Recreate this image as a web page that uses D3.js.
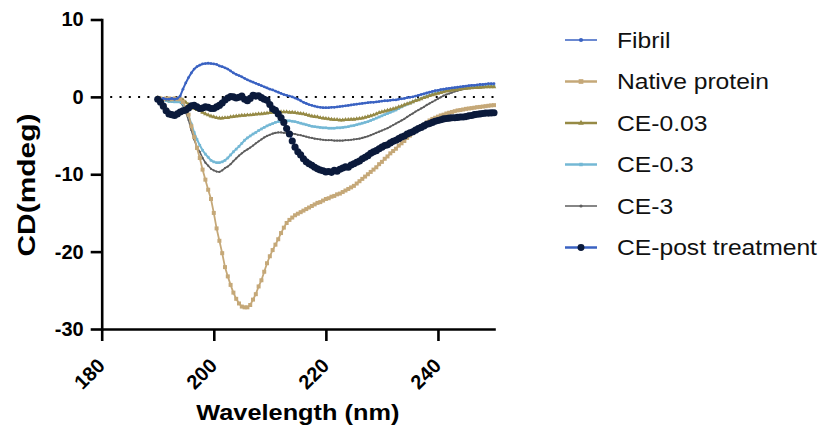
<!DOCTYPE html>
<html>
<head>
<meta charset="utf-8">
<script src="https://cdn.jsdelivr.net/npm/d3@7"></script>
<style>
  body { margin: 0; background: #fff; }
  svg { display: block; font-family: "Liberation Sans", Arial, sans-serif; }
</style>
</head>
<body>
<div class="canvas"></div>
<script>
// margins and dimensions
const w = 828;
const h = 431;

// wavelength grid (nm), one reading every 0.5 nm from 190 to 250
const wavelengths = d3.range(190, 250.01, 0.5);

// CD readings (mdeg), rows of 5 nm
const fibril = [
  -0.2, -0.3, -0.2, -0.3, -0.3, -0.2, -0.3, -0.2, 0.1, 1.0,
  1.8, 2.5, 3.1, 3.6, 3.9, 4.1, 4.25, 4.3, 4.35, 4.3,
  4.25, 4.2, 4.0, 3.9, 3.75, 3.6, 3.35, 3.1, 2.9, 2.75,
  2.6, 2.4, 2.2, 2.05, 1.9, 1.75, 1.6, 1.45, 1.3, 1.15,
  1.0, 0.9, 0.75, 0.6, 0.45, 0.3, 0.2, 0.1, 0.0, -0.15,
  -0.3, -0.5, -0.7, -0.85, -1.0, -1.1, -1.2, -1.3, -1.35, -1.4,
  -1.4, -1.4, -1.35, -1.35, -1.3, -1.25, -1.2, -1.15, -1.1, -1.05,
  -1.0, -0.95, -0.9, -0.85, -0.8, -0.75, -0.7, -0.7, -0.65, -0.6,
  -0.55, -0.5, -0.5, -0.45, -0.4, -0.4, -0.3, -0.25, -0.2, -0.1,
  -0.05, 0.0, 0.1, 0.2, 0.3, 0.4, 0.5, 0.6, 0.7, 0.8,
  0.85, 0.95, 1.0, 1.05, 1.1, 1.15, 1.2, 1.25, 1.3, 1.35,
  1.4, 1.45, 1.5, 1.5, 1.55, 1.6, 1.6, 1.65, 1.7, 1.7,
  1.7
];

const nativeProtein = [
  -0.3, -0.2, -0.3, -0.2, -0.2, -0.3, -0.2, -0.3, -0.3, -0.65,
  -1.4, -2.3, -3.8, -5.2, -6.6, -7.9, -9.4, -10.7, -12.0, -13.2,
  -15.0, -17.0, -18.6, -20.2, -22.0, -23.2, -24.3, -25.3, -26.1, -26.7,
  -27.1, -27.2, -27.2, -26.9, -26.2, -25.5, -24.5, -23.7, -22.6, -21.5,
  -20.6, -19.8, -19.1, -18.4, -17.6, -16.9, -16.3, -15.9, -15.6, -15.3,
  -15.1, -14.9, -14.7, -14.5, -14.3, -14.1, -13.9, -13.7, -13.6, -13.4,
  -13.2, -13.1, -12.9, -12.8, -12.6, -12.5, -12.3, -12.1, -11.9, -11.7,
  -11.5, -11.2, -10.9, -10.6, -10.3, -10.0, -9.7, -9.4, -9.1, -8.7,
  -8.4, -8.0, -7.7, -7.3, -7.0, -6.7, -6.3, -6.0, -5.7, -5.3,
  -5.0, -4.7, -4.4, -4.1, -3.8, -3.6, -3.3, -3.05, -2.85, -2.7,
  -2.55, -2.4, -2.3, -2.15, -2.05, -1.95, -1.85, -1.75, -1.7, -1.63,
  -1.55, -1.5, -1.45, -1.4, -1.33, -1.3, -1.25, -1.2, -1.15, -1.1,
  -1.07
];

const ce003 = [
  -0.1, -0.2, -0.3, -0.3, -0.4, -0.3, -0.3, -0.25, -0.2, -0.4,
  -0.7, -1.0, -1.3, -1.5, -1.65, -1.8, -2.0, -2.2, -2.35, -2.5,
  -2.6, -2.7, -2.75, -2.75, -2.7, -2.7, -2.6, -2.55, -2.5, -2.45,
  -2.4, -2.4, -2.35, -2.35, -2.3, -2.25, -2.2, -2.2, -2.15, -2.1,
  -2.05, -2.0, -2.0, -1.95, -1.95, -1.95, -1.95, -2.0, -2.0, -2.05,
  -2.1, -2.15, -2.2, -2.3, -2.4, -2.5, -2.55, -2.6, -2.7, -2.75,
  -2.8, -2.85, -2.9, -2.95, -2.95, -3.0, -3.0, -2.95, -2.95, -2.9,
  -2.9, -2.85, -2.8, -2.75, -2.65, -2.55, -2.45, -2.35, -2.2, -2.05,
  -1.95, -1.85, -1.75, -1.65, -1.55, -1.45, -1.3, -1.2, -1.05, -0.9,
  -0.8, -0.65, -0.5, -0.4, -0.25, -0.1, 0.0, 0.15, 0.25, 0.35,
  0.45, 0.55, 0.65, 0.75, 0.8, 0.85, 0.9, 0.95, 1.0, 1.05,
  1.1, 1.12, 1.15, 1.18, 1.2, 1.22, 1.25, 1.27, 1.3, 1.3,
  1.3
];

const ce03 = [
  -0.2, -0.3, -0.4, -0.5, -0.6, -0.6, -0.65, -0.65, -0.65, -0.9,
  -1.5, -2.4, -3.5, -4.6, -5.5, -6.25, -6.9, -7.4, -7.8, -8.2,
  -8.4, -8.5, -8.5, -8.4, -8.2, -7.9, -7.5, -7.1, -6.75, -6.4,
  -6.0, -5.6, -5.3, -5.05, -4.8, -4.6, -4.35, -4.15, -3.95, -3.75,
  -3.6, -3.45, -3.3, -3.2, -3.15, -3.1, -3.1, -3.1, -3.15, -3.2,
  -3.3, -3.4, -3.5, -3.6, -3.7, -3.8, -3.85, -3.9, -3.95, -4.0,
  -4.0, -4.05, -4.05, -4.05, -4.0, -4.0, -3.95, -3.9, -3.85, -3.75,
  -3.7, -3.6, -3.5, -3.4, -3.3, -3.2, -3.05, -2.9, -2.75, -2.6,
  -2.45, -2.3, -2.15, -2.0, -1.85, -1.7, -1.5, -1.3, -1.1, -0.95,
  -0.8, -0.65, -0.5, -0.35, -0.2, -0.05, 0.1, 0.2, 0.35, 0.45,
  0.55, 0.65, 0.75, 0.85, 0.9, 0.95, 1.0, 1.05, 1.1, 1.15,
  1.2, 1.22, 1.25, 1.28, 1.3, 1.32, 1.35, 1.37, 1.38, 1.4,
  1.4
];

const ce3 = [
  -0.2, -0.3, -0.4, -0.5, -0.6, -0.6, -0.65, -0.65, -0.7, -1.1,
  -2.0, -3.0, -4.3, -5.5, -6.5, -7.1, -7.9, -8.5, -8.9, -9.3,
  -9.5, -9.65, -9.7, -9.5, -9.2, -9.0, -8.7, -8.3, -7.95, -7.6,
  -7.3, -7.0, -6.8, -6.55, -6.3, -6.0, -5.75, -5.5, -5.25, -5.05,
  -4.9, -4.75, -4.65, -4.6, -4.6, -4.65, -4.65, -4.7, -4.75, -4.8,
  -4.9, -4.95, -5.05, -5.15, -5.25, -5.3, -5.4, -5.45, -5.5, -5.55,
  -5.6, -5.6, -5.6, -5.65, -5.65, -5.65, -5.65, -5.6, -5.6, -5.55,
  -5.5, -5.45, -5.4, -5.3, -5.2, -5.1, -4.95, -4.8, -4.65, -4.5,
  -4.35, -4.2, -4.05, -3.85, -3.65, -3.45, -3.25, -3.05, -2.85, -2.6,
  -2.35, -2.15, -1.9, -1.7, -1.5, -1.3, -1.05, -0.85, -0.65, -0.45,
  -0.25, -0.05, 0.15, 0.3, 0.43, 0.55, 0.7, 0.8, 0.9, 1.0,
  1.08, 1.12, 1.15, 1.18, 1.2, 1.22, 1.25, 1.27, 1.28, 1.3,
  1.3
];

const cePost = [
  -0.3, -0.7, -1.2, -1.8, -2.2, -2.3, -2.4, -2.2, -1.95, -1.8,
  -1.7, -1.45, -1.15, -1.1, -1.3, -1.5, -1.45, -1.3, -1.35, -1.5,
  -1.5, -1.3, -1.1, -0.8, -0.4, -0.15, 0.05, 0.0, -0.15, -0.05,
  0.1, -0.3, -0.5, -0.2, 0.2, 0.1, 0.15, -0.1, -0.3, -0.45,
  -1.0, -1.55, -1.75, -2.2, -2.7, -3.3, -4.1, -4.8, -5.7, -6.5,
  -7.1, -7.5, -8.0, -8.4, -8.65, -8.85, -9.1, -9.3, -9.45, -9.55,
  -9.7, -9.65, -9.75, -9.5, -9.6, -9.35, -9.2, -9.05, -9.1, -8.8,
  -8.65, -8.45, -8.3, -8.0, -7.8, -7.6, -7.3, -7.1, -6.95, -6.7,
  -6.5, -6.3, -6.2, -5.95, -5.75, -5.6, -5.4, -5.2, -5.05, -4.8,
  -4.65, -4.5, -4.3, -4.1, -3.95, -3.75, -3.55, -3.45, -3.3, -3.15,
  -3.05, -2.95, -2.85, -2.8, -2.75, -2.7, -2.7, -2.65, -2.6, -2.6,
  -2.55, -2.45, -2.4, -2.3, -2.25, -2.2, -2.15, -2.1, -2.1, -2.07,
  -2.05
];

// axis ticks
const xTicks = [180, 200, 220, 240];
const yTicks = [-30, -20, -10, 0, 10];

// series styling, legend order
const series = [
  { name: "Fibril", values: fibril, line: "#3a62c2", fill: "#3a62c2", stroke: 2, symbol: d3.symbolCircle, size: 6, legendSize: 14, legendStroke: 1.5 },
  { name: "Native protein", values: nativeProtein, line: "#c5a878", fill: "#c5a878", stroke: 1.8, symbol: d3.symbolSquare, size: 16, legendSize: 22, legendStroke: 2.5 },
  { name: "CE-0.03", values: ce003, line: "#968a45", fill: "#968a45", stroke: 2, symbol: d3.symbolTriangle, size: 9, legendSize: 14, legendStroke: 2.5 },
  { name: "CE-0.3", values: ce03, line: "#74b8d5", fill: "#74b8d5", stroke: 2, symbol: d3.symbolSquare, size: 7, legendSize: 12, legendStroke: 2.5 },
  { name: "CE-3", values: ce3, line: "#5e5e5e", fill: "#5e5e5e", stroke: 1.6, symbol: d3.symbolCircle, size: 4, legendSize: 8, legendStroke: 1.5 },
  { name: "CE-post treatment", values: cePost, line: "#3a62c2", fill: "#0b1a3b", stroke: 1.5, symbol: d3.symbolCircle, size: 40, legendSize: 38, legendStroke: 2.5 }
];

// main svg
const svg = d3.select(".canvas").append("svg").attr("width", w).attr("height", h);

const xScale = d3.scaleLinear().domain([180, 250]).range([101.7, 494]);
const yScale = d3.scaleLinear().domain([-30, 10]).range([329, 19.5]);

// zero reference line (dotted), first dot a little right of the y-axis
svg.append("line")
  .attr("x1", xScale(180) + 8.5)
  .attr("x2", xScale(250))
  .attr("y1", yScale(0))
  .attr("y2", yScale(0))
  .attr("stroke", "#000")
  .attr("stroke-width", 2)
  .attr("stroke-dasharray", "2 7.3");

// curves, drawn back to front, CE-post treatment on top
const drawOrder = [4, 3, 2, 1, 0, 5];
const line = d3.line()
  .x((d, i) => xScale(wavelengths[i]))
  .y(d => yScale(d));

drawOrder.forEach(k => {
  const s = series[k];
  const g = svg.append("g").attr("class", "series");
  g.append("path")
    .datum(s.values)
    .attr("d", line)
    .attr("fill", "none")
    .attr("stroke", s.line)
    .attr("stroke-width", s.stroke)
    .attr("stroke-linejoin", "round");
  g.selectAll("path.marker")
    .data(s.values)
    .enter()
    .append("path")
    .attr("class", "marker")
    .attr("d", d3.symbol().type(s.symbol).size(s.size))
    .attr("transform", (d, i) => `translate(${xScale(wavelengths[i])}, ${yScale(d)})`)
    .attr("fill", s.fill);
});

// x-axis
const xAxis = svg.append("g")
  .attr("transform", `translate(0, ${yScale(-30)})`)
  .call(d3.axisBottom(xScale).tickValues(xTicks).tickSize(12).tickSizeOuter(0));

// y-axis, plain hyphen for negatives
const yAxis = svg.append("g")
  .attr("transform", `translate(${xScale(180)}, 0)`)
  .call(d3.axisLeft(yScale).tickValues(yTicks).tickFormat(d => String(d)).tickSize(11).tickPadding(7).tickSizeOuter(0));

[xAxis, yAxis].forEach(a => {
  a.attr("font-family", null).attr("font-size", null);
  a.select(".domain").attr("stroke-width", 2.6).attr("stroke-linecap", "square");
  a.selectAll(".tick line").attr("stroke-width", 2.6);
  a.selectAll(".tick text")
    .attr("font-size", 20)
    .attr("font-weight", "bold")
    .attr("fill", "#000");
});

// rotated x tick labels
xAxis.selectAll(".tick text")
  .attr("x", 0)
  .attr("y", 0)
  .attr("dy", null)
  .attr("text-anchor", "end")
  .attr("transform", "translate(4, 38) rotate(-45)");

// axis titles
svg.append("text")
  .attr("x", (xScale(180) + xScale(250)) / 2)
  .attr("y", 420)
  .attr("text-anchor", "middle")
  .attr("font-size", 22)
  .attr("font-weight", "bold")
  .attr("textLength", 203)
  .attr("lengthAdjust", "spacingAndGlyphs")
  .text("Wavelength (nm)");

svg.append("text")
  .attr("transform", "translate(35, 185) rotate(-90)")
  .attr("text-anchor", "middle")
  .attr("font-size", 23)
  .attr("font-weight", "bold")
  .attr("textLength", 143)
  .attr("lengthAdjust", "spacingAndGlyphs")
  .text("CD(mdeg)");

// legend
const legend = svg.append("g").attr("transform", "translate(565, 40)");
series.forEach((s, i) => {
  const row = legend.append("g").attr("transform", `translate(0, ${i * 41.5})`);
  row.append("line")
    .attr("x1", 0)
    .attr("x2", 32)
    .attr("stroke", s.line)
    .attr("stroke-width", s.legendStroke);
  row.append("path")
    .attr("d", d3.symbol().type(s.symbol).size(s.legendSize))
    .attr("transform", "translate(16, 0)")
    .attr("fill", s.fill);
  const t = row.append("text")
    .attr("x", 52)
    .attr("y", 7.5)
    .attr("font-size", 22)
    .attr("fill", "#111")
    .text(s.name);
  const len = t.node().getComputedTextLength();
  t.attr("textLength", len * 1.12).attr("lengthAdjust", "spacingAndGlyphs");
});
</script>
</body>
</html>
